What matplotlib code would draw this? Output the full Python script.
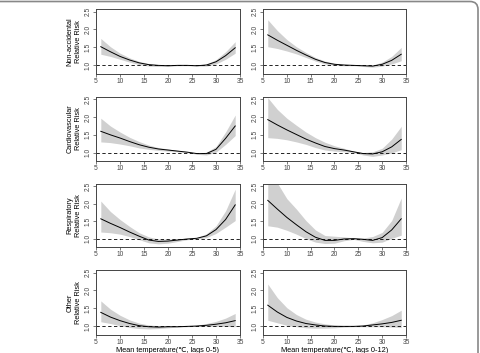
import matplotlib
matplotlib.use("Agg")
import matplotlib.pyplot as plt
from matplotlib.patches import FancyBboxPatch
from matplotlib.transforms import IdentityTransform

plt.rcParams['font.family'] = ['Liberation Sans', 'DejaVu Sans']

temps = [6, 8, 10, 12, 14, 16, 18, 20, 22, 24, 26, 28, 30, 32, 34]

row_labels = ["Non-accidental\nRelative Risk", "Cardiovascular\nRelative Risk",
              "Respiratory\nRelative Risk", "Other\nRelative Risk"]
col_xlabels = ["Mean temperature(\u2103, lags 0-5)", "Mean temperature(\u2103, lags 0-12)"]
x_ticks = [5, 10, 15, 20, 25, 30, 35]
y_ticks = [1.0, 1.5, 2.0, 2.5]

# Non-accidental, lags 0-5
na05_rr = [1.52, 1.38, 1.25, 1.15, 1.07, 1.02, 1.00, 0.99, 1.00, 1.00, 0.99, 1.01, 1.10, 1.27, 1.49]
na05_hi = [1.75, 1.52, 1.34, 1.21, 1.11, 1.05, 1.02, 1.01, 1.01, 1.01, 1.00, 1.04, 1.16, 1.38, 1.66]
na05_lo = [1.31, 1.25, 1.17, 1.09, 1.02, 0.98, 0.97, 0.97, 0.99, 0.99, 0.98, 0.98, 1.04, 1.17, 1.34]
# Non-accidental, lags 0-12
na12_rr = [1.85, 1.70, 1.56, 1.42, 1.29, 1.17, 1.08, 1.03, 1.01, 1.00, 0.99, 0.98, 1.03, 1.14, 1.31]
na12_hi = [2.27, 1.97, 1.72, 1.52, 1.36, 1.22, 1.12, 1.06, 1.03, 1.01, 1.00, 1.01, 1.09, 1.25, 1.50]
na12_lo = [1.52, 1.47, 1.40, 1.32, 1.22, 1.12, 1.04, 1.00, 0.99, 0.99, 0.97, 0.95, 0.98, 1.04, 1.13]
# Cardiovascular, lags 0-5
cv05_rr = [1.60, 1.50, 1.41, 1.31, 1.22, 1.15, 1.10, 1.07, 1.04, 1.01, 0.97, 0.97, 1.09, 1.40, 1.75]
cv05_hi = [1.97, 1.75, 1.58, 1.43, 1.31, 1.21, 1.14, 1.10, 1.06, 1.02, 0.98, 1.01, 1.17, 1.58, 2.06]
cv05_lo = [1.30, 1.28, 1.24, 1.19, 1.13, 1.09, 1.06, 1.04, 1.02, 1.00, 0.95, 0.93, 1.01, 1.23, 1.48]
# Cardiovascular, lags 0-12
cv12_rr = [1.93, 1.78, 1.64, 1.51, 1.38, 1.27, 1.17, 1.11, 1.07, 1.02, 0.97, 0.96, 1.02, 1.16, 1.37]
cv12_hi = [2.55, 2.22, 1.97, 1.77, 1.58, 1.42, 1.29, 1.19, 1.12, 1.04, 1.00, 1.02, 1.12, 1.38, 1.74]
cv12_lo = [1.42, 1.40, 1.36, 1.30, 1.23, 1.14, 1.07, 1.04, 1.02, 1.00, 0.93, 0.89, 0.93, 0.99, 1.08]
# Respiratory, lags 0-5
rs05_rr = [1.57, 1.44, 1.32, 1.19, 1.07, 0.96, 0.92, 0.93, 0.96, 0.99, 1.01, 1.08, 1.26, 1.55, 1.97]
rs05_hi = [2.08, 1.78, 1.55, 1.35, 1.17, 1.05, 0.99, 0.99, 1.00, 1.01, 1.03, 1.14, 1.37, 1.80, 2.42]
rs05_lo = [1.19, 1.17, 1.13, 1.06, 0.97, 0.88, 0.85, 0.87, 0.92, 0.97, 0.99, 1.03, 1.15, 1.33, 1.52]
# Respiratory, lags 0-12
rs12_rr = [2.10, 1.85, 1.61, 1.40, 1.20, 1.04, 0.95, 0.95, 0.99, 1.00, 0.98, 0.95, 1.03, 1.25, 1.57]
rs12_hi = [2.65, 2.60, 2.15, 1.85, 1.52, 1.25, 1.09, 1.07, 1.05, 1.02, 1.02, 1.06, 1.18, 1.52, 2.17]
rs12_lo = [1.37, 1.33, 1.24, 1.13, 1.00, 0.90, 0.86, 0.87, 0.94, 0.98, 0.92, 0.88, 0.90, 1.01, 1.10]
# Other, lags 0-5
ot05_rr = [1.39, 1.26, 1.16, 1.08, 1.02, 0.99, 0.98, 0.99, 0.99, 1.00, 1.01, 1.03, 1.06, 1.10, 1.16]
ot05_hi = [1.71, 1.48, 1.31, 1.18, 1.09, 1.04, 1.02, 1.01, 1.00, 1.00, 1.03, 1.08, 1.14, 1.23, 1.36]
ot05_lo = [1.13, 1.08, 1.02, 0.97, 0.94, 0.93, 0.94, 0.96, 0.98, 0.99, 1.00, 1.00, 1.00, 1.00, 0.99]
# Other, lags 0-12
ot12_rr = [1.59, 1.40, 1.25, 1.15, 1.08, 1.04, 1.01, 1.00, 1.00, 1.00, 1.01, 1.04, 1.07, 1.11, 1.17]
ot12_hi = [2.18, 1.80, 1.52, 1.33, 1.20, 1.12, 1.07, 1.04, 1.02, 1.01, 1.04, 1.10, 1.19, 1.30, 1.45]
ot12_lo = [1.17, 1.10, 1.03, 0.99, 0.96, 0.95, 0.95, 0.96, 0.98, 0.99, 0.99, 0.99, 0.99, 0.98, 0.97]

panels = [
    [(na05_rr, na05_lo, na05_hi), (na12_rr, na12_lo, na12_hi)],
    [(cv05_rr, cv05_lo, cv05_hi), (cv12_rr, cv12_lo, cv12_hi)],
    [(rs05_rr, rs05_lo, rs05_hi), (rs12_rr, rs12_lo, rs12_hi)],
    [(ot05_rr, ot05_lo, ot05_hi), (ot12_rr, ot12_lo, ot12_hi)],
]

W, H = 481, 353
fig = plt.figure(figsize=(W / 100, H / 100), dpi=100)

col_px = [(96, 240), (263, 406)]
row_px = [(9, 74), (97, 161), (184, 247), (270, 335)]

spine_c = '#444444'
for r, (top, bot) in enumerate(row_px):
    for c, (l, rgt) in enumerate(col_px):
        ax = fig.add_axes([l / W, 1 - bot / H, (rgt - l) / W, (bot - top) / H])
        rr, lo, hi = panels[r][c]
        ax.fill_between(temps, lo, hi, color='#d0d0d0', lw=0, zorder=1)
        ax.plot(temps, rr, color='black', lw=0.7, zorder=3)
        ax.axhline(1.0, color='black', lw=0.6, ls=(0, (4, 3)), zorder=2)
        ax.set_xlim(5, 35)
        ax.set_ylim(0.76, 2.57)
        ax.set_xticks(x_ticks)
        ax.set_yticks(y_ticks)
        ax.set_yticklabels([f"{v:.1f}" for v in y_ticks], rotation=90, va='center')
        ax.tick_params(labelsize=4.8, length=2, width=0.5, pad=1,
                       color=spine_c, labelcolor='#444444')
        for s in ax.spines.values():
            s.set_color(spine_c)
            s.set_linewidth(0.7)
        if c == 0:
            ax.set_ylabel(row_labels[r], fontsize=5.3, labelpad=2, linespacing=1.35)
        if r == 3:
            ax.set_xlabel(col_xlabels[c], fontsize=5.3, labelpad=0.5)

border = FancyBboxPatch((-20, -20), 498, 371.5,
                        boxstyle='round,pad=0,rounding_size=8',
                        transform=IdentityTransform(), fill=False,
                        ec='#888888', lw=1.2)
fig.patches.append(border)

fig.savefig('out.png', dpi=100)
